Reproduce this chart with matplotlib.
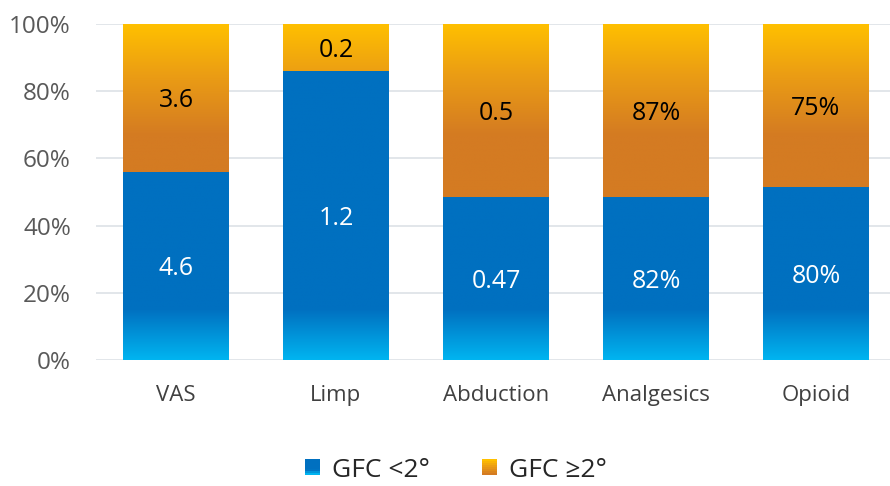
import numpy as np
import matplotlib
matplotlib.use('Agg')
import matplotlib.pyplot as plt
from matplotlib.colors import LinearSegmentedColormap
from matplotlib.patches import Rectangle
from matplotlib.legend_handler import HandlerBase

plt.rcParams['font.family'] = ['Open Sans', 'DejaVu Sans']

categories = ['VAS', 'Limp', 'Abduction', 'Analgesics', 'Opioid']
low_pct = [56, 86, 48.5, 48.5, 51.5]      # GFC <2° share of bar (%)
high_pct = [44, 14, 51.5, 51.5, 48.5]     # GFC ≥2° share of bar (%)
low_labels = ['4.6', '1.2', '0.47', '82%', '80%']
high_labels = ['3.6', '0.2', '0.5', '87%', '75%']
yticks = [0, 20, 40, 60, 80, 100]

blue_cmap = LinearSegmentedColormap.from_list(
    'blue', [(0, '#00b4f0'), (0.15, '#0070c0'), (1, '#0070c0')])
orange_cmap = LinearSegmentedColormap.from_list(
    'orange', [(0, '#d47b22'), (0.67, '#d47b22'), (0.85, '#eb9d14'), (1, '#ffc000')])


class GradHandler(HandlerBase):
    def __init__(self, colors):
        super().__init__()
        self.colors = colors

    def create_artists(self, legend, orig_handle, xdescent, ydescent,
                       width, height, fontsize, trans):
        n = len(self.colors)
        arts = []
        for i, c in enumerate(self.colors):
            r = Rectangle((-xdescent, -ydescent + height * i / n), width, height / n + 0.3,
                          facecolor=c, edgecolor='none', transform=trans)
            arts.append(r)
        return arts


fig = plt.figure(figsize=(8.9, 4.86), dpi=100)
ax = fig.add_axes([96 / 890, 126 / 486, 800 / 890, 336 / 486])

x = np.arange(len(categories))
bars_low = ax.bar(x, low_pct, width=0.66, color='none', edgecolor='none', zorder=2)
bars_high = ax.bar(x, high_pct, bottom=low_pct, width=0.66, color='none',
                   edgecolor='none', zorder=2)

grad = np.linspace(0, 1, 512).reshape(-1, 1)
for bars, cmap in [(bars_low, blue_cmap), (bars_high, orange_cmap)]:
    for b in bars:
        im = ax.imshow(grad, extent=[b.get_x(), b.get_x() + b.get_width(), 0, 100],
                       origin='lower', cmap=cmap, aspect='auto', zorder=2,
                       interpolation='bilinear')
        im.set_clip_path(b)

for i in range(len(categories)):
    ax.text(x[i], low_pct[i] / 2, low_labels[i], ha='center', va='center_baseline',
            color='white', fontsize=18, zorder=3)
    ax.text(x[i], low_pct[i] + high_pct[i] / 2, high_labels[i], ha='center',
            va='center_baseline', color='black', fontsize=18, zorder=3)

ax.set_xlim(-0.5, len(categories) - 0.5)
ax.set_ylim(0, 100)
ax.set_yticks(yticks)
ax.set_yticklabels([f'{t}%' for t in yticks])
ax.set_xticks(x)
ax.set_xticklabels(categories)
ax.tick_params(axis='y', length=0, pad=18, labelsize=17.5, labelcolor='#595959')
ax.tick_params(axis='x', length=0, pad=18, labelsize=16, labelcolor='#404040')
for s in ax.spines.values():
    s.set_visible(False)
ax.grid(axis='y', color='#dde1e6', linewidth=1.2, zorder=0)
ax.set_axisbelow(True)

h1 = Rectangle((0, 0), 1, 1)
h2 = Rectangle((0, 0), 1, 1)
blue_cols = [blue_cmap(v) for v in np.linspace(0.0, 0.5, 8)]
orange_cols = [orange_cmap(v) for v in np.linspace(0.67, 1.0, 8)]
fig.legend([h1, h2], ['GFC <2°', 'GFC ≥2°'],
           handler_map={h1: GradHandler(blue_cols), h2: GradHandler(orange_cols)},
           loc='center', bbox_to_anchor=(456 / 890, 1 - 470 / 486), ncol=2,
           frameon=False, fontsize=19, handlelength=0.57, handleheight=0.57,
           handletextpad=0.45, columnspacing=2.0, labelcolor='#262626',
           borderpad=0.2)

fig.savefig('out.png', dpi=100)
